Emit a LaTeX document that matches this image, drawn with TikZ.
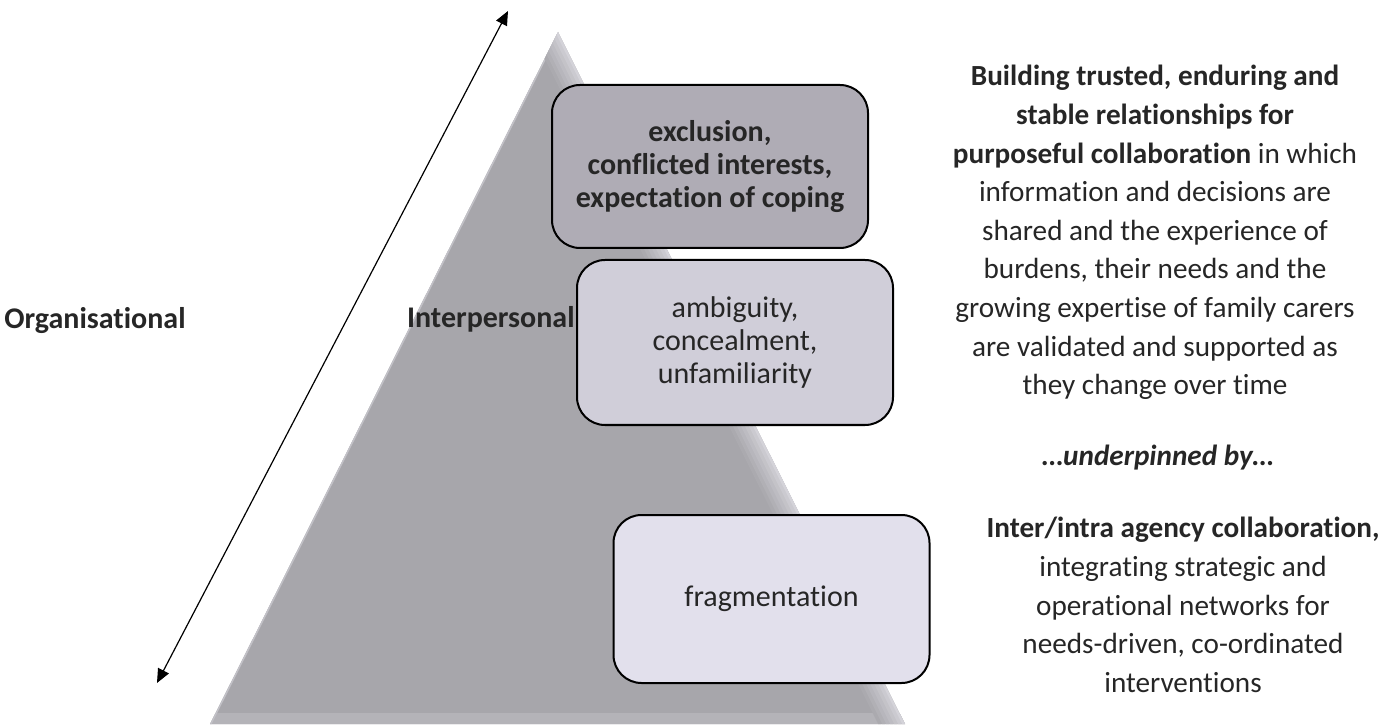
\documentclass[tikz,border=0pt]{standalone}
\usepackage{fontspec}
\setmainfont{Carlito}[Ligatures = NoCommon]
\usetikzlibrary{arrows.meta}

\definecolor{pyramid}{RGB}{167,166,171}
\definecolor{bevellight}{RGB}{212,211,217}
\definecolor{bevelbase}{RGB}{180,179,184}
\definecolor{toplevel}{RGB}{175,172,181}
\definecolor{midlevel}{RGB}{208,206,217}
\definecolor{lowlevel}{RGB}{226,224,236}
\definecolor{textgrey}{RGB}{38,38,38}

\begin{document}
\begin{tikzpicture}[x = 0.5pt, y = -0.5pt]
\tikzstyle{every node} = [text = textgrey, inner sep = 0pt]
\tikzstyle{barrier} = [draw = black, line width = 1pt, rounded corners = 14pt, align = center, minimum width = 158pt, font = \fontsize{15}{16.5}\selectfont]
\tikzstyle{aim} = [align = center, font = \fontsize{14.6}{19.3}\selectfont]
\tikzstyle{level} = [font = \fontsize{15}{18}\selectfont\bfseries]

\useasboundingbox (0, 0) rectangle (1395, 726);

% pyramid with soft bevelled edges
\begin{scope}
\clip (558, 32) -- (905, 724) -- (210, 724) -- cycle;
\fill[pyramid] (0, 0) rectangle (1395, 726);
\fill[bevelbase] (0, 713) rectangle (1395, 726);
\draw[line width = 1.5pt, bevellight!60!pyramid] (558, 32) -- (210, 724);
\foreach \k/\mix in {6/8, 5/22, 4/36, 3/50, 2/64, 1/80, 0/100}
  \draw[line width = 2.5pt, bevellight!\mix!pyramid] ({558 - 4*\k}, 32) -- ({905 - 4*\k}, 724);
\end{scope}

\draw (710, 166.5) node[barrier, fill = toplevel, minimum height = 81.5pt] (1) {\bfseries exclusion,\\ \bfseries conflicted interests,\\ \bfseries expectation of coping};
\draw (735, 342.5) node[barrier, fill = midlevel, minimum height = 82.5pt] (2) {ambiguity,\\ concealment,\\ unfamiliarity};
\draw (771.5, 599) node[barrier, fill = lowlevel, minimum height = 84pt] (3) {fragmentation};

\draw (186, 329) node[level, anchor = base east] (4) {Organisational};
\draw (575, 328) node[level, anchor = base east] (5) {Interpersonal};

\coordinate (low) at (157, 683);
\coordinate (high) at (508, 11);
\draw[{Triangle[length = 7pt, width = 6pt]}-{Triangle[length = 7pt, width = 6pt]}, line width = 0.6pt] (low) -- (high);

\draw (1155, 232.5) node[aim] (6) {\textbf{Building trusted, enduring and}\\ \textbf{stable relationships for}\\ \textbf{purposeful collaboration} in which\\ information and decisions are\\ shared and the experience of\\ burdens, their needs and the\\ growing expertise of family carers\\ are validated and supported as\\ they change over time};
\draw (1158, 458) node[aim] (7) {\textbf{\textit{\dots underpinned by\dots}}};
\draw (1183, 605) node[aim] (8) {\textbf{Inter/intra agency collaboration,}\\ integrating strategic and\\ operational networks for\\ needs-driven, co-ordinated\\ interventions};
\end{tikzpicture}
\end{document}
